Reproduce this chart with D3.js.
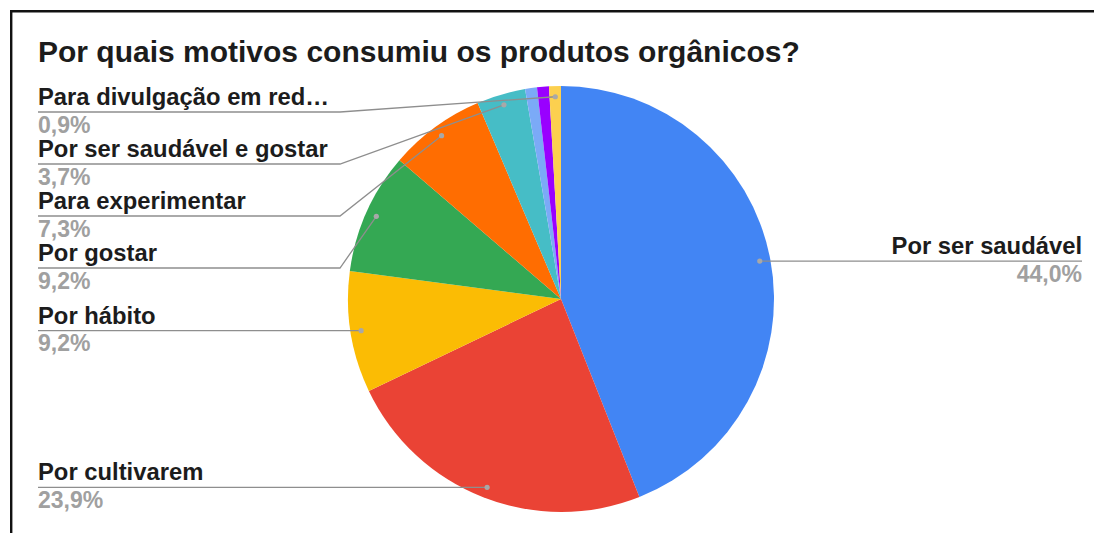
<!DOCTYPE html>
<html>
<head>
<meta charset="utf-8">
<script src="https://cdn.jsdelivr.net/npm/d3@7"></script>
<style>
  html, body { margin: 0; padding: 0; background: #fff; }
  svg { display: block; font-family: "Liberation Sans", Arial, sans-serif; }
</style>
</head>
<body>
<svg id="chart" width="1094" height="533"></svg>
<script>
// Survey answers: why organic products were consumed (share of responses, %)
const categories = [
  "Por ser saudável",
  "Por cultivarem",
  "Por hábito",
  "Por gostar",
  "Para experimentar",
  "Por ser saudável e gostar",
  "Outro motivo (a)",
  "Outro motivo (b)",
  "Para divulgação em red…"
];
const values = [44.0, 23.9, 9.2, 9.2, 7.3, 3.7, 0.9, 0.9, 0.9];
const valueLabels = ["44,0%", "23,9%", "9,2%", "9,2%", "7,3%", "3,7%", "0,9%", "0,9%", "0,9%"];
const labelled = [true, true, true, true, true, true, false, false, true];
const colors = ["#4285F4", "#EA4335", "#FBBC04", "#34A853", "#FF6D01", "#46BDC6", "#7BAAF7", "#9900FF", "#FCD04F"];
const title = "Por quais motivos consumiu os produtos orgânicos?";

const svg = d3.select("#chart");
const W = 1094, H = 533;

// frame (left and top edges)
svg.append("path")
  .attr("d", `M11.2,${H} V11.2 H${W}`)
  .attr("fill", "none")
  .attr("stroke", "#111")
  .attr("stroke-width", 2.4);

svg.append("text")
  .attr("x", 38).attr("y", 62)
  .attr("font-size", 30)
  .attr("font-weight", "bold")
  .attr("fill", "#1c1c1c")
  .text(title);

const cx = 561, cy = 299, r = 213;
const data = categories.map((c, i) => ({
  name: c, value: values[i], label: valueLabels[i], shown: labelled[i], color: colors[i]
}));

const pie = d3.pie().sort(null).value(d => d.value);
const arcs = pie(data);
const arc = d3.arc().innerRadius(0).outerRadius(r);
const dotArc = d3.arc().innerRadius(r * 0.95).outerRadius(r * 0.95);

const g = svg.append("g").attr("transform", `translate(${cx},${cy})`);
g.selectAll("path.slice")
  .data(arcs)
  .join("path")
  .attr("class", "slice")
  .attr("d", arc)
  .attr("fill", d => d.data.color);

// label layout: right side keeps its own height, left side stacks downwards
const lineColor = "#8e8e8e";
const leftX = 38, rightX = 1082, cornerX = 340, minGap = 52, topLimit = 112;

const items = arcs.filter(a => a.data.shown).map(a => {
  const [dx, dy] = dotArc.centroid(a);
  const mid = (a.startAngle + a.endAngle) / 2;
  return { a, px: cx + dx, py: cy + dy, side: mid < Math.PI ? "right" : "left" };
});

const left = items.filter(d => d.side === "left").sort((p, q) => p.py - q.py);
let prev = -Infinity;
left.forEach((d, i) => {
  d.ly = Math.max(d.py, i === 0 ? topLimit : prev + minGap);
  prev = d.ly;
});
items.filter(d => d.side === "right").forEach(d => { d.ly = d.py; });

const labelG = svg.append("g");
items.forEach(d => {
  let pts;
  if (d.side === "left") {
    pts = Math.abs(d.ly - d.py) < 1
      ? [[leftX, d.ly], [d.px, d.py]]
      : [[leftX, d.ly], [cornerX, d.ly], [d.px, d.py]];
  } else {
    pts = [[rightX, d.ly], [d.px, d.py]];
  }
  labelG.append("path")
    .attr("d", d3.line()(pts))
    .attr("fill", "none")
    .attr("stroke", lineColor)
    .attr("stroke-width", 1.3);
  labelG.append("circle")
    .attr("cx", d.px).attr("cy", d.py).attr("r", 2.6)
    .attr("fill", "#a8a8a8");

  const anchor = d.side === "left" ? "start" : "end";
  const tx = d.side === "left" ? leftX : rightX;
  labelG.append("text")
    .attr("x", tx).attr("y", d.ly - 7)
    .attr("text-anchor", anchor)
    .attr("font-size", 23.8)
    .attr("font-weight", "bold")
    .attr("fill", "#1c1c1c")
    .text(d.a.data.name);
  labelG.append("text")
    .attr("x", tx).attr("y", d.ly + 20.5)
    .attr("text-anchor", anchor)
    .attr("font-size", 23)
    .attr("font-weight", "bold")
    .attr("fill", "#a0a0a0")
    .text(d.a.data.label);
});
</script>
</body>
</html>
